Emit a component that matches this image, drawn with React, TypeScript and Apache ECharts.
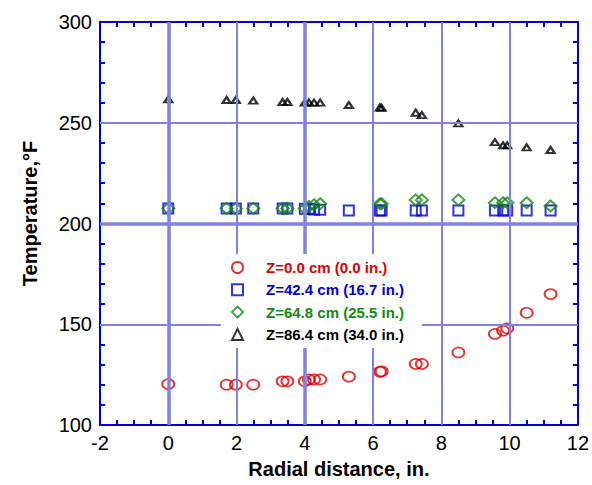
import React, { useEffect, useRef } from "react";
import * as echarts from "echarts";

// Radial distance, in.
const radialX = [0, 1.71, 1.98, 2.49, 3.35, 3.49, 4.0, 4.12, 4.27, 4.45, 5.29, 6.2, 6.25, 7.25, 7.43, 8.5, 9.57, 9.81, 9.93, 10.5, 11.2];
// Temperature, °F
const tempZ0 = [120.3, 120, 120, 120, 121.7, 121.7, 121.7, 122.6, 122.6, 122.6, 124, 126.4, 126.6, 130.3, 130.3, 136, 145.2, 146.8, 148, 155.7, 165];
const tempZ42 = [207.5, 207.5, 207.5, 207.5, 207.5, 207.5, 207.3, 207.3, 207, 206.8, 206.4, 206.4, 206.4, 206.4, 206.4, 206.4, 206.4, 206.4, 206.4, 206.4, 206.4];
const tempZ64 = [207.5, 207.5, 207.5, 207.5, 207.5, 207.5, 207.5, 208.5, 209.3, 209.8, null, 209.8, 209.8, 211.7, 211.7, 211.7, 210.3, 210.3, 210.3, 210.3, 208.7];
const tempZ86 = [261.6, 261.3, 261.3, 261, 260.3, 260.3, 260, 260, 260, 260, 258.8, 257.6, 257.4, 255, 253.8, 249.7, 240.4, 238.8, 238.8, 237.8, 236.5];

const seriesNames = [
  "Z=0.0 cm (0.0 in.)",
  "Z=42.4 cm (16.7 in.)",
  "Z=64.8 cm (25.5 in.)",
  "Z=86.4 cm (34.0 in.)",
];

const xGridValues = [0, 2, 4, 6, 8, 10];
const xGridWidths = [3.5, 2, 3.5, 2, 2, 2];
const yGridValues = [150, 200, 250];
const yGridWidths = [2, 3.5, 2];

const FONT = "'Liberation Sans', Arial, sans-serif";
const AXIS_BLUE = "#0000dd";
const GRID_BLUE = "#8080e6";

function pairs(ys: (number | null)[]) {
  const out: number[][] = [];
  ys.forEach((y, i) => {
    if (y !== null) out.push([radialX[i], y]);
  });
  return out;
}

export default function App() {
  const ref = useRef<HTMLDivElement>(null);
  useEffect(() => {
    document.body.style.margin = "0";
    const chart = echarts.init(ref.current!, null, { renderer: "svg" });
    const xBase = {
      type: "value" as const,
      min: -2,
      max: 12,
      interval: 2,
      axisLine: { show: true, onZero: false, lineStyle: { color: AXIS_BLUE, width: 2 } },
      axisTick: { show: true, inside: true, length: 7, lineStyle: { color: AXIS_BLUE, width: 2 } },
      minorTick: { show: true, splitNumber: 4, length: 5, lineStyle: { color: AXIS_BLUE, width: 2 } },
      splitLine: { show: false },
    };
    const yBase = {
      type: "value" as const,
      min: 100,
      max: 300,
      interval: 50,
      axisLine: { show: true, onZero: false, lineStyle: { color: AXIS_BLUE, width: 2 } },
      axisTick: { show: true, inside: true, length: 7, lineStyle: { color: AXIS_BLUE, width: 2 } },
      minorTick: { show: true, splitNumber: 5, length: 5, lineStyle: { color: AXIS_BLUE, width: 2 } },
      splitLine: { show: false },
    };
    const gridLines = [
      ...xGridValues.map((v, i) => ({ xAxis: v, lineStyle: { width: xGridWidths[i] } })),
      ...yGridValues.map((v, i) => ({ yAxis: v, lineStyle: { width: yGridWidths[i] } })),
    ];
    chart.setOption({
      animation: false,
      backgroundColor: "#ffffff",
      grid: { left: 100, right: 12, top: 22, bottom: 60 },
      xAxis: [
        {
          ...xBase,
          position: "bottom",
          name: "Radial distance, in.",
          nameLocation: "middle",
          nameGap: 34,
          nameTextStyle: { fontFamily: FONT, fontSize: 20, fontWeight: "bold", color: "#000" },
          axisLabel: { show: true, margin: 8, fontFamily: FONT, fontSize: 20, color: "#000" },
        },
        { ...xBase, position: "top", axisLabel: { show: false } },
      ],
      yAxis: [
        {
          ...yBase,
          position: "left",
          name: "Temperature,°F",
          nameLocation: "middle",
          nameGap: 60,
          nameRotate: 90,
          nameTextStyle: { fontFamily: FONT, fontSize: 20, fontWeight: "bold", color: "#000", padding: [0, 0, 0, 20] },
          axisLabel: { show: true, margin: 8, fontFamily: FONT, fontSize: 20, color: "#000" },
        },
        { ...yBase, position: "right", axisLabel: { show: false } },
      ],
      legend: {
        left: 221,
        top: 254,
        orient: "vertical",
        backgroundColor: "#ffffff",
        padding: [6, 18, 6, 10],
        itemWidth: 11,
        itemHeight: 11,
        itemGap: 7.3,
        z: 10,
        textStyle: { fontFamily: FONT, fontSize: 15, fontWeight: "bold", padding: [0, 0, 0, 18] },
        data: [
          { name: seriesNames[0], textStyle: { color: "#e00000" } },
          { name: seriesNames[1], textStyle: { color: "#0000dd" } },
          { name: seriesNames[2], textStyle: { color: "#138a13" } },
          { name: seriesNames[3], textStyle: { color: "#000000" } },
        ],
      },
      series: [
        {
          name: "gridlines",
          type: "scatter",
          data: [],
          z: 1,
          silent: true,
          markLine: {
            silent: true,
            symbol: "none",
            label: { show: false },
            lineStyle: { color: GRID_BLUE, type: "solid" },
            data: gridLines,
          },
        },
        {
          name: seriesNames[0],
          type: "scatter",
          data: pairs(tempZ0),
          symbol: "circle",
          symbolSize: [12, 10],
          itemStyle: { color: "rgba(0,0,0,0)", borderColor: "#e00000", borderWidth: 1.8 },
          z: 3,
        },
        {
          name: seriesNames[1],
          type: "scatter",
          data: pairs(tempZ42),
          symbol: "rect",
          symbolSize: [10, 10],
          itemStyle: { color: "rgba(0,0,0,0)", borderColor: "#0000dd", borderWidth: 2 },
          z: 3,
        },
        {
          name: seriesNames[2],
          type: "scatter",
          data: pairs(tempZ64),
          symbol: "diamond",
          symbolSize: [12, 11],
          itemStyle: { color: "rgba(0,0,0,0)", borderColor: "#138a13", borderWidth: 2 },
          z: 4,
        },
        {
          name: seriesNames[3],
          type: "scatter",
          data: pairs(tempZ86),
          symbol: "triangle",
          symbolSize: [8, 6],
          itemStyle: { color: "rgba(255,255,255,0)", borderColor: "#000000", borderWidth: 2.2 },
          z: 4,
        },
      ],
    });
    return () => chart.dispose();
  }, []);
  return <div ref={ref} style={{ width: 592, height: 485 }} />;
}
